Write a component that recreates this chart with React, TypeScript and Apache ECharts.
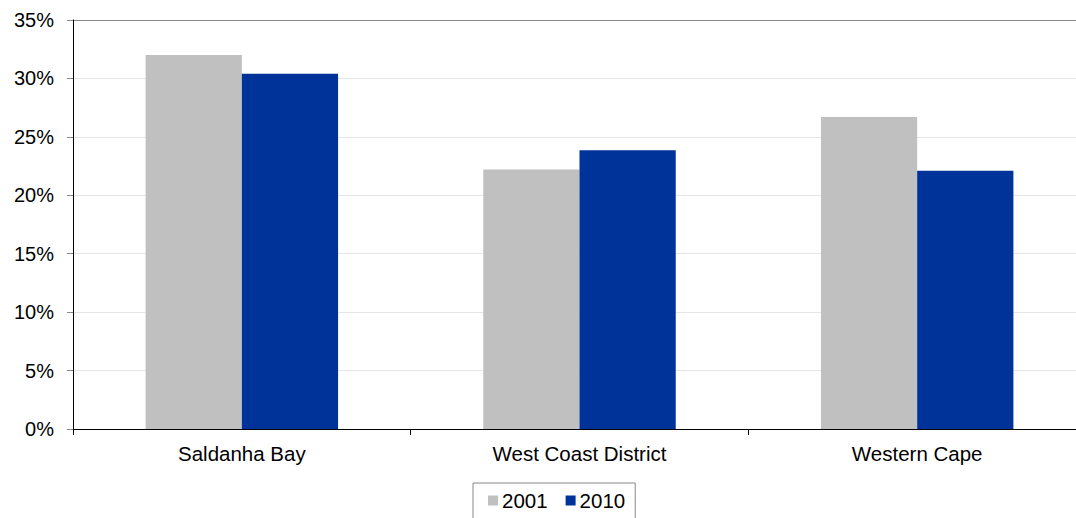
import React, { useEffect, useRef } from "react";
import * as echarts from "echarts";

const categories = ["Saldanha Bay", "West Coast District", "Western Cape"];
const series2001 = [32.0, 22.2, 26.7];
const series2010 = [30.4, 23.85, 22.1];
const seriesNames = ["2001", "2010"];

export default function App() {
  const ref = useRef<HTMLDivElement>(null);
  useEffect(() => {
    const chart = echarts.init(ref.current!, null, { renderer: "svg" });
    const font = "Liberation Sans, Arial, sans-serif";
    chart.setOption({
      animation: false,
      grid: { left: 73, right: 0, top: 20, bottom: 89, containLabel: false },
      legend: {
        data: seriesNames,
        top: 483,
        left: 473,
        itemWidth: 10,
        itemHeight: 10,
        itemGap: 18,
        icon: "rect",
        borderColor: "#888",
        borderWidth: 1,
        padding: [7, 10, 8, 15],
        textStyle: { fontFamily: font, fontSize: 20.5, color: "#000", padding: [0, 0, 0, -1] },
      },
      xAxis: {
        type: "category",
        data: categories,
        axisLine: { lineStyle: { color: "#000", width: 1 } },
        axisTick: { show: true, lineStyle: { color: "#000" }, length: 6 },
        axisLabel: { fontFamily: font, fontSize: 20.5, color: "#000", margin: 14 },
      },
      yAxis: {
        type: "value",
        min: 0,
        max: 35,
        interval: 5,
        axisLine: { show: true, lineStyle: { color: "#000", width: 1 } },
        axisTick: { show: true, length: 6, lineStyle: { color: "#888" } },
        axisLabel: {
          fontFamily: font,
          fontSize: 20,
          color: "#000",
          margin: 19,
          formatter: "{value}%",
        },
        splitLine: {
          show: true,
          lineStyle: {
            color: ["#e6e6e6", "#e6e6e6", "#e6e6e6", "#e6e6e6", "#e6e6e6", "#e6e6e6", "#e6e6e6", "#888888"],
            width: 1,
          },
        },
      },
      series: [
        {
          name: seriesNames[0],
          type: "bar",
          data: series2001,
          barGap: "0%",
          barCategoryGap: "43%",
          itemStyle: { color: "#c0c0c0" },
        },
        {
          name: seriesNames[1],
          type: "bar",
          data: series2010,
          itemStyle: { color: "#003399" },
        },
      ],
    });
    return () => chart.dispose();
  }, []);
  return (
    <div style={{ width: 1076, height: 518, position: "absolute", left: 0, top: 0, overflow: "hidden" }}>
      <div ref={ref} style={{ width: 1086, height: 518 }} />
    </div>
  );
}
